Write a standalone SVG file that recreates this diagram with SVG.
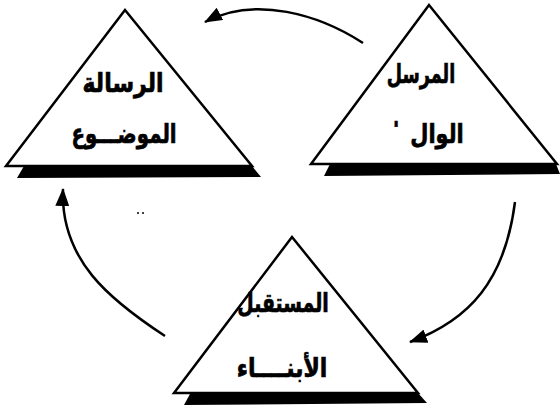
<svg xmlns="http://www.w3.org/2000/svg" width="560" height="406" viewBox="0 0 560 406">
<style>
.tri{fill:#fff;stroke:#000;stroke-width:2.5;stroke-linejoin:miter}
.sh{fill:#000}
.lbl{font-family:"DejaVu Sans",sans-serif;font-weight:bold;font-size:22px;fill:#000;stroke:#000;stroke-width:0.6;text-anchor:middle}
.arr{fill:none;stroke:#000;stroke-width:2.5}
</style>
<defs>
<marker id="ah" viewBox="0 0 18 14" refX="17" refY="7" markerWidth="18" markerHeight="14" markerUnits="userSpaceOnUse" orient="auto">
<path d="M0,0 L18,7 L0,14 z" fill="#000"/>
</marker>
</defs>
<rect width="560" height="406" fill="#fff"/>
<g id="connectors">
<path class="arr" d="M363,43 C320,15 255,-5 205,22" marker-end="url(#ah)"/>
<path class="arr" d="M515,202 C505,280 470,320 410,342" marker-end="url(#ah)"/>
<path class="arr" d="M165,336 C110,300 60,260 63,189" marker-end="url(#ah)"/>
</g>
<g id="node-message">
<polygon class="sh" points="24,166 252,166 261,177 17,178"/>
<polygon class="tri" points="125,10 6,166 252,166"/>
<text class="lbl" transform="translate(123,92) scale(1,1.2)">الرسالة</text>
<text class="lbl" transform="translate(124,143) scale(0.9,1.2)">الموضـــوع</text>
</g>
<g id="node-sender">
<polygon class="sh" points="330,164 556,164 560,174 324,176"/>
<polygon class="tri" points="429,5 311,164 557,164"/>
<text class="lbl" transform="translate(421,83) scale(0.8,1.2)">المرسل</text>
<text class="lbl" transform="translate(437,143) scale(0.95,1.2)">الوال</text>
<text class="lbl" x="396" y="137" font-size="14">'</text>
</g>
<g id="node-receiver">
<polygon class="sh" points="190,394 418,393 427,403 184,405"/>
<polygon class="tri" points="292,237 174,393 418,393"/>
<text class="lbl" transform="translate(283,312) scale(0.86,1.2)">المستقبل</text>
<text class="lbl" transform="translate(282,377) scale(1,1.2)">الأبنــــاء</text>
</g>
<circle cx="138" cy="213" r="1" fill="#000"/>
<circle cx="143" cy="213" r="1" fill="#000"/>
</svg>
